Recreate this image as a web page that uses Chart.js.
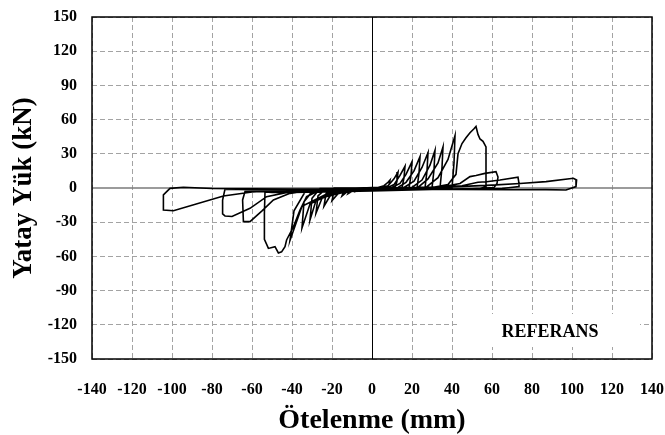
<!DOCTYPE html>
<html>
<head>
<meta charset="utf-8">
<title>Referans</title>
<script src="https://cdn.jsdelivr.net/npm/chart.js@4.4.0/dist/chart.umd.min.js"></script>
<style>
  html, body { margin: 0; padding: 0; background: #fff; }
  canvas { display: block; }
</style>
</head>
<body>
<canvas id="mycanvas" width="665" height="435"></canvas>
<script>
// hysteresis path, one cycle per line
var drift = [
  0,
  3, 6, 8, 9, 8.5, 7.5, 4, 0, -4, -6, -8, -7, -5, 0,
  5, 8, 11, 13, 12.5, 11.5, 6, 0, -6, -10, -12, -11, -8, 0,
  8, 11, 14, 16.5, 16, 15, 8, 0, -8, -13, -15, -14, -11, 0,
  10, 14, 17, 20, 19.5, 18.5, 10, 0, -10, -17, -20, -19, -15, 0,
  13, 17, 21, 24, 23.5, 22.5, 12, 0, -12, -21, -24, -23, -19, 0,
  16, 21, 25, 28, 27.5, 26.5, 14, 0, -14, -25, -28, -27, -23, 0,
  20, 25, 29, 31.5, 31, 30, 16, 0, -16, -28, -31, -30, -26, 0,
  23, 28, 33, 35.5, 35, 34, 18, 0, -18, -31, -35, -34, -29, 0,
  27, 33, 38, 41.5, 41, 40, 20, 0, -20, -35, -41, -39, -33, 0,
  30, 38, 42, 43, 45, 47, 49, 51, 52, 53, 54, 55.5, 57, 57, 57, 54, 30, 0, -25, -40,
  -50, -53.5, -53.8, -53.8, -51.8, -48.5, -46.8, -45.2, -43.5, -42.7, -39.3, -36, -32.7, -25, 0, 20,
  35, 44, 49, 52, 56.5, 62, 63, 62.5, 61, 50, 30, 0, -30, -50, -63.5, -64.7, -64.3, -61, -55, -49.3, -41, -30, 0,
  30, 45, 53, 57.3, 64, 73, 73.5, 73.5, 65, 40, 0, -40, -60, -73.5, -74.7, -74.7, -73.5, -70, -61, -52.7, -40, 0,
  40, 60, 74, 87, 100.7, 102.3, 102, 97, 87, 70, 40, 0, -40, -80, -94.3, -101, -104.3, -104.3, -99.3, -74.3, -60, -40, 0
];
var load = [
  0,
  0.5, 2, 5, 7, 3, 0, -0.8, -1, -1.2, -2, -3, -1, 0, 0.3,
  0.5, 2, 8, 14, 6, 0, -1, -1.2, -1.5, -3, -5, -1.5, 0, 0.3,
  0.5, 3, 11, 19, 9, 0, -1, -1.3, -1.6, -4, -7, -2, 0, 0.2,
  0.5, 4, 12, 23, 11, 0, -1, -1.4, -2, -5, -11, -3, 0, 0.2,
  0.5, 5, 15, 27.5, 13, 0, -1, -1.5, -2, -7, -16, -5, 0, 0.2,
  0.5, 6, 18, 31, 15, 0, -1, -1.6, -2.2, -9, -22, -7, -0.5, 0.2,
  0.5, 7, 20, 33, 16, 0, -1, -1.8, -2.5, -11, -28, -9, -0.5, 0.2,
  0.5, 8, 22, 36, 18, 0, -1.2, -2, -2.8, -14, -35, -12, -1, 0.2,
  0.5, 9, 25, 46, 22, 0, -1.2, -2.2, -3, -16, -46, -20, -2, 0.2,
  0.5, 3, 12, 30, 39, 44, 48.5, 52, 54, 47, 43, 41, 36, 15, 1, -0.5, -1.2, -2.5, -3.5, -4,
  -4, -3.5, -22, -45, -53, -51.5, -57, -56, -51.5, -45.6, -34, -19.3, -7.6, -1, 0, 0.5,
  1, 4, 10, 11, 12.8, 14.3, 9.6, 4, 0.5, -0.8, -1, -1.5, -2.5, -3, -3.2, -10.5, -29.5, -29.5, -20, -10.5, -4.7, -2, 0,
  0.8, 2, 5, 5.5, 7, 9.4, 4, 1.2, -0.5, -1, -1.5, -1.8, -1.5, -1, -10.5, -22.8, -24.5, -25, -17.8, -7.6, -3, 0,
  1, 2.5, 4, 5.6, 8.5, 7, 1.2, -1.7, -1.4, -1.5, -1.2, -1, -1, -0.5, 0.6, -0.3, -6, -19.3, -20, -7, -3.5, -1.5, 0
];
var xTicks = [-140, -120, -100, -80, -60, -40, -20, 0, 20, 40, 60, 80, 100, 120, 140];
var yTicks = [-150, -120, -90, -60, -30, 0, 30, 60, 90, 120, 150];

var serif = "'Liberation Serif', 'Times New Roman', serif";

var points = [];
for (var i in drift) {
  points.push({x: drift[i], y: load[i]});
}

var gridColor = function(c) {
  return c.tick && c.tick.value === 0 ? 'rgba(0,0,0,0)' : '#a3a3a3';
};

// zero lines, label box and frame
var frame = {
  id: 'frame',
  beforeDatasetsDraw: function(chart) {
    var ctx = chart.ctx, a = chart.chartArea;
    var x0 = chart.scales.x.getPixelForValue(0);
    var y0 = chart.scales.y.getPixelForValue(0);
    ctx.save();
    ctx.fillStyle = '#fff';
    ctx.fillRect(a.right - 192, a.bottom - 45, 180, 33);
    ctx.strokeStyle = '#7a7a7a';
    ctx.lineWidth = 1.5;
    ctx.beginPath();
    ctx.moveTo(a.left, y0);
    ctx.lineTo(a.right, y0);
    ctx.stroke();
    ctx.strokeStyle = '#000';
    ctx.lineWidth = 1;
    ctx.beginPath();
    ctx.moveTo(Math.round(x0) + 0.5, a.top);
    ctx.lineTo(Math.round(x0) + 0.5, a.bottom);
    ctx.stroke();
    ctx.restore();
  },
  afterDatasetsDraw: function(chart) {
    var ctx = chart.ctx, a = chart.chartArea;
    ctx.save();
    ctx.fillStyle = '#000';
    ctx.font = 'bold 18px ' + serif;
    ctx.textAlign = 'center';
    ctx.textBaseline = 'middle';
    ctx.fillText('REFERANS', a.right - 102, a.bottom - 27);
    ctx.strokeStyle = '#000';
    ctx.lineWidth = 1.5;
    ctx.strokeRect(a.left, a.top, a.right - a.left, a.bottom - a.top);
    ctx.restore();
  }
};

var ctx = document.getElementById('mycanvas');

var hysteresis = new Chart(ctx, {
  type: 'scatter',
  data: {
    datasets: [{
      label: 'REFERANS',
      data: points,
      showLine: true,
      borderColor: '#000',
      borderWidth: 1.6,
      pointRadius: 0,
      tension: 0,
      fill: false
    }]
  },
  options: {
    responsive: false,
    animation: false,
    devicePixelRatio: 1,
    layout: { padding: { left: 0, right: 13, top: 17, bottom: 0 } },
    plugins: {
      legend: { display: false },
      tooltip: { enabled: false }
    },
    scales: {
      x: {
        type: 'linear',
        min: -140,
        max: 140,
        afterBuildTicks: function(scale) {
          scale.ticks = xTicks.map(function(v) { return {value: v}; });
        },
        afterFit: function(scale) {
          scale.height = 76;
          scale.paddingLeft = 0;
          scale.paddingRight = 0;
          scale.paddingTop = 0;
          scale.paddingBottom = 0;
        },
        ticks: {
          color: '#000',
          padding: 21,
          maxRotation: 0,
          autoSkip: false,
          font: { family: serif, size: 16, weight: 'bold' }
        },
        grid: { color: gridColor, lineWidth: 1, drawTicks: false },
        border: { display: false, dash: [5, 3] },
        title: {
          display: true,
          text: 'Ötelenme (mm)',
          color: '#000',
          font: { family: serif, size: 28, weight: 'bold' },
          padding: { top: 0, bottom: -3 }
        }
      },
      y: {
        type: 'linear',
        min: -150,
        max: 150,
        afterBuildTicks: function(scale) {
          scale.ticks = yTicks.map(function(v) { return {value: v}; });
        },
        afterFit: function(scale) {
          scale.width = 92;
          scale.paddingTop = 0;
          scale.paddingBottom = 0;
          scale.paddingLeft = 0;
          scale.paddingRight = 0;
        },
        ticks: {
          color: '#000',
          padding: 15,
          autoSkip: false,
          font: { family: serif, size: 16, weight: 'bold' }
        },
        grid: { color: gridColor, lineWidth: 1, drawTicks: false },
        border: { display: false, dash: [5, 3] },
        title: {
          display: true,
          text: 'Yatay Yük (kN)',
          color: '#000',
          font: { family: serif, size: 27, weight: 'bold' },
          padding: { top: 8, bottom: 0 }
        }
      }
    }
  },
  plugins: [frame]
});
</script>
</body>
</html>
